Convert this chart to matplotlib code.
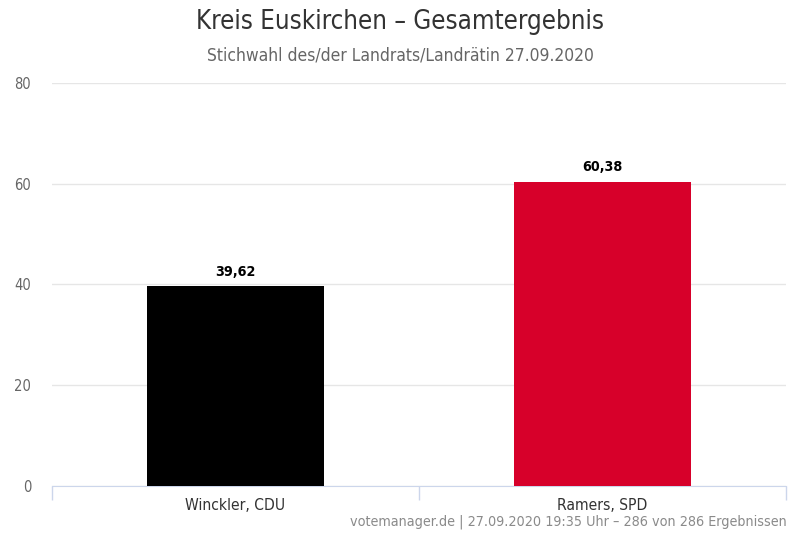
import matplotlib
matplotlib.use("Agg")
import matplotlib.pyplot as plt

# values
candidates = ["Winckler, CDU", "Ramers, SPD"]
shares = [39.62, 60.38]
bar_colors = ["#000000", "#d7002a"]
y_ticks = [0, 20, 40, 60, 80]

plt.rcParams['font.family'] = ['DejaVu Sans']
plt.rcParams['font.stretch'] = 'condensed'

fig = plt.figure(figsize=(8, 5.33), dpi=100)
ax = fig.add_axes([0.065, 0.0882, 0.9175, 0.7561])

x = range(len(candidates))
ax.bar(x, shares, width=0.48, color=bar_colors, zorder=3)

for xi, v in zip(x, shares):
    ax.text(xi, v + 1.5, f"{v:.2f}".replace(".", ","), ha='center', va='bottom',
            fontsize=10.3, fontweight='bold', color='#000000', zorder=4)

ax.set_xlim(-0.5, len(candidates) - 0.5)
ax.set_ylim(0, 80)
ax.set_yticks(y_ticks)
ax.set_yticklabels([str(t) for t in y_ticks], fontsize=10.5, color='#666666')
ax.grid(axis='y', color='#e6e6e6', linewidth=1, zorder=0)
ax.tick_params(axis='y', length=0, pad=15)

# category tick marks at the boundaries
ax.set_xticks([-0.5, 0.5, 1.5])
ax.set_xticklabels([])
ax.tick_params(axis='x', length=10, color='#ccd6eb', width=1)
ax.set_xticks(list(x), minor=True)
ax.set_xticklabels(candidates, minor=True, fontsize=11.2, color='#333333')
ax.tick_params(axis='x', which='minor', length=0, pad=9)

for side in ['top', 'right', 'left']:
    ax.spines[side].set_visible(False)
ax.spines['bottom'].set_color('#ccd6eb')

fig.text(0.5, 0.959, "Kreis Euskirchen – Gesamtergebnis", ha='center', va='center',
         fontsize=18.5, color='#333333')
fig.text(0.5, 0.895, "Stichwahl des/der Landrats/Landrätin 27.09.2020", ha='center',
         va='center', fontsize=12.5, color='#666666')
fig.text(0.983, 0.022, "votemanager.de | 27.09.2020 19:35 Uhr – 286 von 286 Ergebnissen",
         ha='right', va='center', fontsize=10.3, color='#8a8a8a')

fig.savefig("out.png", dpi=100, facecolor='white')
